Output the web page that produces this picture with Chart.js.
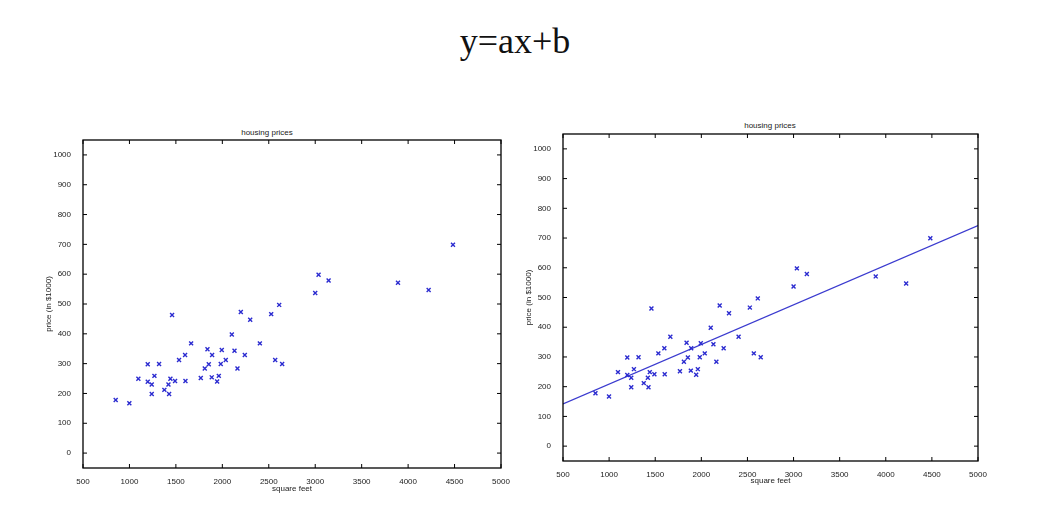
<!DOCTYPE html><html><head><meta charset="utf-8">
<script src="https://cdn.jsdelivr.net/npm/chart.js@4"></script>
<style>body{margin:0;background:#fff;width:1060px;height:506px;position:relative;overflow:hidden;font-family:"Liberation Sans",Arial}
.w{position:absolute;width:500px;height:387px}.t{position:absolute;font-size:8px;color:#222;width:500px;text-align:center}
#h{position:absolute;top:20px;left:0;width:1030px;text-align:center;font:36px "Liberation Serif","Times New Roman";color:#111}</style></head><body>
<div id="h">y=ax+b</div>
<div class="t" style="left:17px;top:128px">housing prices</div>
<div class="t" style="left:520px;top:121px">housing prices</div>
<div class="w" style="left:20px;top:118px"><canvas id="c1"></canvas></div>
<div class="w" style="left:500px;top:112px"><canvas id="c2"></canvas></div>
<script>
const sqft=[852,999,1096,1197,1197,1240,1240,1269,1319,1376,1420,1427,1441,1459,1491,1534,1599,1603,1664,1768,1811,1840,1854,1886,1890,1944,1962,1983,1994,2037,2102,2131,2163,2199,2242,2300,2404,2526,2569,2612,2644,3000,3036,3144,3891,4221,4483];
const price=[178,167,249,298,239,230,198,259,299,212,230,198,249,463,242,312,329,242,368,252,284,348,298,254,329,240,259,299,346,312,398,343,284,473,329,447,368,466,312,497,299,537,598,579,571,547,699];
const fitX=[500,5000];
const fitY=[142,742];
const xTicks=[500,1000,1500,2000,2500,3000,3500,4000,4500,5000];
const yTicks=[0,100,200,300,400,500,600,700,800,900,1000];
const pts=sqft.map((x,i)=>({x,y:price[i]}));
const blue='#2b2bd0';
const boxPlugin={id:'box',afterDraw(c){const a=c.chartArea,g=c.ctx,xs=c.scales.x,ys=c.scales.y;g.save();g.strokeStyle='#000';g.lineWidth=1.3;g.strokeRect(a.left,a.top,a.width,a.height);g.lineWidth=1;g.beginPath();
xTicks.forEach(v=>{const p=xs.getPixelForValue(v);g.moveTo(p,a.bottom);g.lineTo(p,a.bottom-4);g.moveTo(p,a.top);g.lineTo(p,a.top+4);});
yTicks.forEach(v=>{const p=ys.getPixelForValue(v);g.moveTo(a.left,p);g.lineTo(a.left+4,p);g.moveTo(a.right,p);g.lineTo(a.right-4,p);});
g.stroke();g.restore();}};
const f={size:8,family:'Liberation Sans'};
function mk(id,withLine,pr,xh,pb){
const ds=[{type:'scatter',data:pts,pointStyle:'crossRot',radius:2.8,borderColor:blue,backgroundColor:blue,borderWidth:1.4}];
if(withLine)ds.push({type:'line',data:fitX.map((x,i)=>({x,y:fitY[i]})),borderColor:'#3b3bcf',borderWidth:1.4,pointRadius:0});
new Chart(document.getElementById(id),{type:'scatter',data:{datasets:ds},options:{animation:false,responsive:true,maintainAspectRatio:false,
layout:{padding:{top:22,right:pr,left:24,bottom:pb}},plugins:{legend:{display:false},tooltip:{enabled:false}},
scales:{x:{type:'linear',min:500,max:5000,afterBuildTicks:s=>{s.ticks=xTicks.map(v=>({value:v}))},afterFit:s=>{s.height=xh},grid:{display:false},border:{display:false},
ticks:{color:'#222',font:f,maxRotation:0,padding:1,callback:v=>String(v)},title:{display:true,text:'square feet',color:'#222',font:f,padding:0}},
y:{min:-50,max:1050,afterBuildTicks:s=>{s.ticks=yTicks.map(v=>({value:v}))},afterFit:s=>{s.width=39},grid:{display:false},border:{display:false},
ticks:{color:'#222',font:f,padding:4,callback:v=>String(v)},title:{display:true,text:'price (in $1000)',color:'#222',font:f,padding:0}}}},plugins:[boxPlugin]});}
mk('c1',false,19,26,11);mk('c2',true,22,25,13);
</script></body></html>
